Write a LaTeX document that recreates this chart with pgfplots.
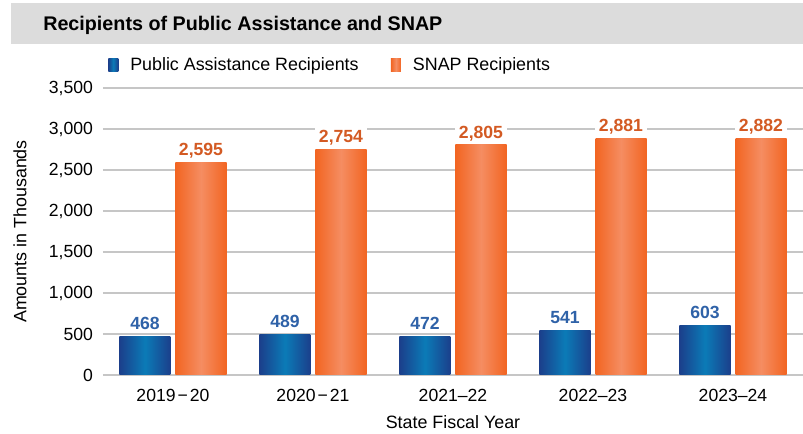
\documentclass[border=0pt]{standalone}
\usepackage{pgfplots}
\pgfplotsset{compat=1.18}
\usepackage{fontspec}
\setmainfont{Liberation Sans}
\definecolor{padark}{HTML}{1B3F8B}
\definecolor{palight}{HTML}{0B7BB7}
\definecolor{ordark}{HTML}{F26522}
\definecolor{orlight}{HTML}{F58D62}
\definecolor{pablue}{HTML}{2F62A8}
\definecolor{snaporange}{HTML}{D35A23}
\definecolor{titlegray}{HTML}{DCDCDC}
\definecolor{gridgray}{HTML}{C6C6C6}
\pgfplotsset{
  pabar/.style={draw=none, bar shift=-21pt, left color=padark, right color=padark, middle color=palight,
    every node near coord/.append style={text=pablue}},
  snapbar/.style={draw=none, bar shift=21pt, left color=ordark, right color=ordark, middle color=orlight,
    every node near coord/.append style={text=snaporange}},
}
\begin{document}
\begin{tikzpicture}
\useasboundingbox (-77.25pt,-44.25pt) rectangle (525pt,281.25pt);
\fill[titlegray] (-69pt,248.25pt) rectangle (525pt,279pt);
\node[anchor=west, inner sep=0pt, font=\bfseries\fontsize{14.8}{17}\selectfont] at (-45pt,262.5pt) {Recipients of Public Assistance and SNAP};
\begin{axis}[
  at={(0,0)}, anchor=south west,
  scale only axis,
  width=525pt, height=215.25pt,
  xmin=-0.5, xmax=4.5,
  ymin=0, ymax=3500,
  ytick={0,500,...,3500},
  xtick={0,1,2,3,4},
  xticklabels={2019\kern1.5pt−\kern1.5pt20, 2020\kern1.5pt−\kern1.5pt21, 2021–22, 2022–23, 2023–24},
  ymajorgrids,
  major grid style={line width=1.3pt, color=gridgray},
  axis line style={draw=none},
  major tick length=0pt,
  tick style={draw=none},
  /pgf/number format/1000 sep={,},
  /pgf/number format/assume math mode=true,
  tick label style={font=\fontsize{13.2}{15}\selectfont},
  yticklabel style={xshift=-4pt},
  xticklabel style={yshift=-7pt},
  label style={font=\fontsize{13.4}{15}\selectfont},
  xlabel={State Fiscal Year},
  ylabel={Amounts in Thousands},
  xlabel style={at={(axis description cs:0.5,0)}, anchor=center, yshift=-35pt},
  ylabel style={at={(axis description cs:-0.1186,0.5)}, anchor=center},
  ybar, bar width=38.25pt,
  nodes near coords={\pgfmathprintnumber[1000 sep={,}]{\pgfplotspointmeta}},
  nodes near coords style={anchor=south, fill=white, inner xsep=3pt, inner ysep=1.5pt, text depth=0pt, yshift=3.5pt, font=\bfseries\fontsize{13.2}{15}\selectfont},
  legend style={at={(axis description cs:0.00714,1.079)}, anchor=west, draw=none, fill=none, inner sep=0pt, legend columns=2, font=\fontsize{13.4}{15}\selectfont,
    /tikz/every odd column/.append style={column sep=7pt},
    /tikz/every even column/.append style={column sep=22.25pt}},
  legend image code/.code={\path[#1, draw=none] (0pt,-4.5pt) rectangle (7.5pt,5.25pt);},
]
\addplot[pabar] coordinates {(0,468)};
\addplot[snapbar] coordinates {(0,2595)};
\addplot[pabar, forget plot] coordinates {(1,489)};
\addplot[pabar, forget plot] coordinates {(2,472)};
\addplot[pabar, forget plot] coordinates {(3,541)};
\addplot[pabar, forget plot] coordinates {(4,603)};
\addplot[snapbar, forget plot] coordinates {(1,2754)};
\addplot[snapbar, forget plot] coordinates {(2,2805)};
\addplot[snapbar, forget plot] coordinates {(3,2881)};
\addplot[snapbar, forget plot] coordinates {(4,2882)};
\legend{Public Assistance Recipients, SNAP Recipients}
\end{axis}
\end{tikzpicture}
\end{document}
